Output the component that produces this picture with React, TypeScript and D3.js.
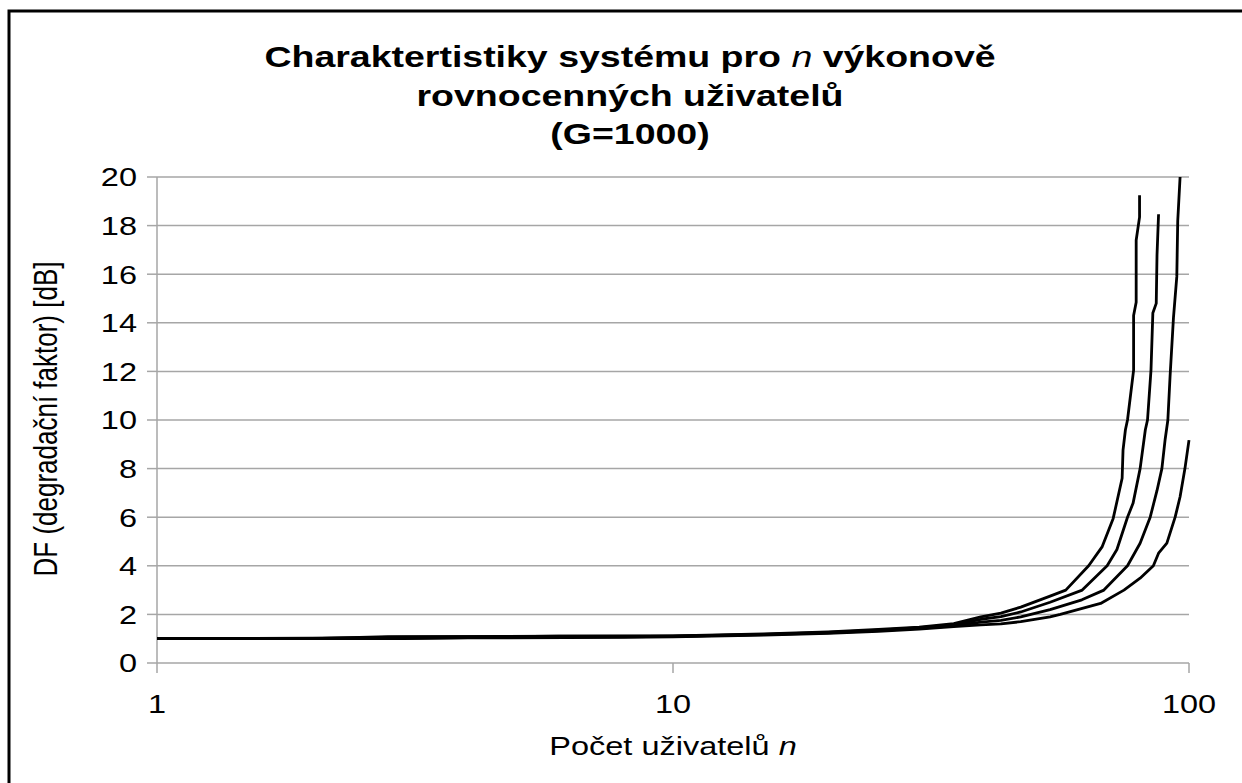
import React from 'react';
import * as d3 from 'd3';

// n (users) and DF [dB] for each curve
const nA = [1, 2, 2.8, 6, 10, 15, 20, 25, 30, 35, 39.5, 43.2, 47.2, 53.8, 57.7, 63.9, 67.9, 71.3, 74.2, 74.5, 75.3, 76, 78.1, 78.1, 79, 79, 80.2, 80.2];
const dfA = [1.0, 1.0, 1.08, 1.1, 1.12, 1.2, 1.28, 1.38, 1.48, 1.62, 1.9, 2.05, 2.3, 2.75, 3.0, 4.0, 4.79, 5.95, 7.6, 8.76, 9.6, 10.0, 12.05, 14.3, 14.85, 17.4, 18.35, 19.25];

const nB = [1, 2, 3, 6, 10, 15, 20, 25, 30, 35, 39.5, 43.2, 47.2, 53.8, 62.1, 69.4, 72.5, 76, 77.9, 80.4, 82.3, 83.1, 84.4, 85.1, 86.4, 86.7, 87.3];
const dfB = [1.0, 1.02, 1.06, 1.1, 1.1, 1.18, 1.26, 1.35, 1.45, 1.57, 1.8, 1.91, 2.1, 2.5, 3.0, 4.0, 4.67, 6.0, 6.57, 8.0, 9.6, 10.0, 12.05, 14.4, 14.8, 16.8, 18.47];

const nC = [1, 2.5, 4, 8, 10, 15, 20, 25, 30, 35, 39.5, 43.2, 47.2, 53.8, 62, 68.4, 76, 80.4, 84.1, 86.7, 88.6, 89.9, 91, 91.9, 93.3, 94.7, 95.1, 96.1];
const dfC = [1.0, 1.0, 1.05, 1.08, 1.1, 1.17, 1.24, 1.33, 1.43, 1.53, 1.68, 1.75, 1.9, 2.2, 2.6, 3.0, 4.0, 4.93, 6.0, 7.1, 8.0, 9.2, 10.0, 11.8, 14.2, 15.9, 18.2, 20.0];

const nD = [1, 3, 4, 8, 10, 15, 20, 25, 30, 35, 39.5, 43.2, 47.2, 53.8, 56.3, 67.4, 74.8, 80.4, 85.3, 87.3, 90.6, 94, 96.1, 98.2, 100];
const dfD = [1.0, 1.0, 1.03, 1.06, 1.08, 1.15, 1.22, 1.3, 1.4, 1.5, 1.57, 1.61, 1.7, 1.9, 2.0, 2.45, 3.0, 3.49, 4.0, 4.52, 4.93, 6.0, 6.84, 8.0, 9.17];

const series = [
  { n: nA, df: dfA },
  { n: nB, df: dfB },
  { n: nC, df: dfC },
  { n: nD, df: dfD },
];

const yTicks = [0, 2, 4, 6, 8, 10, 12, 14, 16, 18, 20];
const xTicks = [1, 10, 100];
const titleLines = ['rovnocenných uživatelů', '(G=1000)'];

const W = 1242;
const H = 783;
const left = 157, right = 1189, top = 177, bottom = 663;
const font = 'Liberation Sans, Arial, sans-serif';
const sx = 1.25; // the picture's text is a bit wider than plain Arial

export default function App() {
  const x = d3.scaleLog().domain([1, 100]).range([left, right]);
  const y = d3.scaleLinear().domain([0, 20]).range([bottom, top]);

  const line = d3.line<[number, number]>()
    .x(d => x(d[0]))
    .y(d => y(d[1]));

  return (
    <div style={{ position: 'absolute', left: 0, top: 0 }}>
      <svg width={W} height={H} style={{ display: 'block', background: '#fff' }}>
        <defs>
          <clipPath id="plot">
            <rect x={left} y={top - 1} width={right - left + 2} height={bottom - top + 1} />
          </clipPath>
        </defs>

        {/* chart border */}
        <rect x={9} y={11} width={1300} height={900} fill="none" stroke="#000" strokeWidth={3} />

        {/* title */}
        <text transform={`translate(630,67) scale(${sx},1)`} textAnchor="middle" fontFamily={font} fontWeight="bold" fontSize={30}>
          Charaktertistiky systému pro{' '}
          <tspan fontWeight="normal" fontStyle="italic">n</tspan>{' '}výkonově
        </text>
        {titleLines.map((t, i) => (
          <text key={t} transform={`translate(630,${106 + i * 38}) scale(${sx},1)`} textAnchor="middle" fontFamily={font} fontWeight="bold" fontSize={30}>
            {t}
          </text>
        ))}

        {/* gridlines */}
        {yTicks.filter(v => v > 0).map(v => (
          <line key={v} x1={left} x2={right} y1={y(v)} y2={y(v)} stroke="#a6a6a6" strokeWidth={1.5} />
        ))}

        {/* axes */}
        <line x1={left} x2={left} y1={top} y2={bottom} stroke="#a6a6a6" strokeWidth={1.5} />
        <line x1={left} x2={right} y1={bottom} y2={bottom} stroke="#a6a6a6" strokeWidth={1.5} />
        {yTicks.map(v => (
          <g key={v}>
            <line x1={left - 10} x2={left} y1={y(v)} y2={y(v)} stroke="#a6a6a6" strokeWidth={1.5} />
            <text transform={`translate(137,${y(v)}) scale(${sx},1)`} dy="0.36em" textAnchor="end" fontFamily={font} fontSize={26}>{v}</text>
          </g>
        ))}
        {xTicks.map(v => (
          <g key={v}>
            <line x1={x(v)} x2={x(v)} y1={bottom} y2={bottom + 10} stroke="#a6a6a6" strokeWidth={1.5} />
            <text transform={`translate(${x(v)},713) scale(${sx},1)`} textAnchor="middle" fontFamily={font} fontSize={26}>{v}</text>
          </g>
        ))}

        {/* curves */}
        <g clipPath="url(#plot)">
          {series.map((s, i) => (
            <path
              key={i}
              d={line(s.n.map((n, j) => [n, s.df[j]] as [number, number])) || ''}
              fill="none"
              stroke="#000"
              strokeWidth={2.8}
              strokeLinejoin="round"
            />
          ))}
        </g>

        {/* axis titles */}
        <text transform={`translate(57,419) scale(${sx},1) rotate(-90)`} textAnchor="middle" fontFamily={font} fontSize={26}>
          DF (degradační faktor) [dB]
        </text>
        <text transform={`translate(${(left + right) / 2},755) scale(${sx},1)`} textAnchor="middle" fontFamily={font} fontSize={26}>
          Počet uživatelů <tspan fontStyle="italic">n</tspan>
        </text>
      </svg>
    </div>
  );
}
